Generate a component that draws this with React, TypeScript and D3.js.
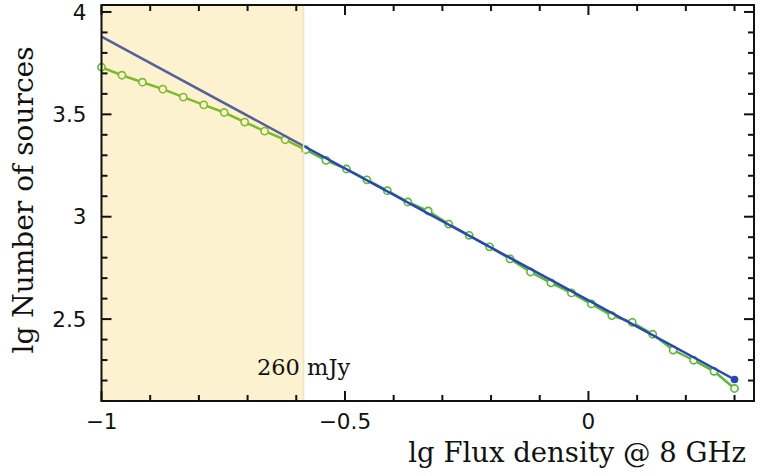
import React, { useRef, useEffect } from 'react'
import * as d3 from 'd3'

// lg flux density (x) for the measured counts
const fluxLg = [
  -1.0, -0.958, -0.916, -0.874, -0.832, -0.79, -0.748, -0.706, -0.665, -0.623,
  -0.581, -0.539, -0.497, -0.455, -0.413, -0.371, -0.329, -0.287, -0.245, -0.203,
  -0.161, -0.119, -0.077, -0.035, 0.006, 0.048, 0.09, 0.132, 0.174, 0.216,
  0.258, 0.3
]
// lg number of sources, measured
const countLg = [
  3.73, 3.691, 3.657, 3.623, 3.584, 3.546, 3.509, 3.462, 3.418, 3.376,
  3.327, 3.275, 3.233, 3.18, 3.127, 3.072, 3.028, 2.964, 2.909, 2.853,
  2.794, 2.73, 2.677, 2.628, 2.574, 2.517, 2.484, 2.426, 2.349, 2.299,
  2.245, 2.161
]
// power-law fit
const fitX = [-1.0, 0.3]
const fitY = [3.88, 2.205]

const xTicks = [-1, -0.5, 0]
const yTicks = [2.5, 3, 3.5, 4]
const cutoffLg = -0.585
const cutoffLabel = '260 mJy'

const W = 763
const H = 476
const margin = { left: 101.5, right: 9, top: 5, bottom: 75 }

const App = () => {
  const svgRef = useRef(null)

  useEffect(() => {
    const width = W - margin.left - margin.right
    const height = H - margin.top - margin.bottom

    const x = d3.scaleLinear().domain([-1, 0.34]).range([0, width])
    const y = d3.scaleLinear().domain([2.1, 4.034]).range([height, 0])

    const svgEl = d3.select(svgRef.current)
    svgEl.selectAll('*').remove()
    const svg = svgEl
      .append('g')
      .attr('transform', `translate(${margin.left},${margin.top})`)

    const green = '#5cb82e'
    const blue = '#2846b8'

    const line = d3
      .line<[number, number]>()
      .x(d => x(d[0]))
      .y(d => y(d[1]))

    svg
      .append('path')
      .attr('fill', 'none')
      .attr('stroke', green)
      .attr('stroke-width', 2.5)
      .attr('d', line(fluxLg.map((v, i) => [v, countLg[i]])))

    svg
      .selectAll('.pt')
      .data(fluxLg)
      .enter()
      .append('circle')
      .attr('cx', d => x(d))
      .attr('cy', (d, i) => y(countLg[i]))
      .attr('r', 3.6)
      .attr('fill', 'white')
      .attr('stroke', green)
      .attr('stroke-width', 1.6)

    // fit line
    svg
      .append('path')
      .attr('fill', 'none')
      .attr('stroke', blue)
      .attr('stroke-width', 2.5)
      .attr('d', line(fitX.map((v, i) => [v, fitY[i]])))

    svg
      .append('circle')
      .attr('cx', x(fitX[1]))
      .attr('cy', y(fitY[1]))
      .attr('r', 3.8)
      .attr('fill', blue)

    // shaded incomplete region, drawn on top
    svg
      .append('rect')
      .attr('x', 0)
      .attr('y', 0)
      .attr('width', x(cutoffLg))
      .attr('height', height)
      .attr('fill', '#f6c429')
      .attr('fill-opacity', 0.22)
    svg
      .append('line')
      .attr('x1', x(cutoffLg))
      .attr('x2', x(cutoffLg))
      .attr('y1', 0)
      .attr('y2', height)
      .attr('stroke', '#efe4c6')
      .attr('stroke-width', 1.5)

    svg
      .append('text')
      .attr('x', x(cutoffLg))
      .attr('y', height - 26)
      .attr('text-anchor', 'middle')
      .attr('font-family', 'DejaVu Serif')
      .attr('font-size', 22.5)
      .attr('fill', '#111')
      .text(cutoffLabel)

    // ticks (inward, on all four sides)
    const tickColor = '#111'
    const xMinor = d3.range(-10, 4).map(v => v / 10)
    const yMinor = d3.range(22, 41).map(v => v / 10)
    const isMajor = (v: number) => Math.abs(v * 2 - Math.round(v * 2)) < 1e-6

    xMinor.forEach(v => {
      const len = isMajor(v) ? 10 : 6
      svg.append('line').attr('x1', x(v)).attr('x2', x(v)).attr('y1', height).attr('y2', height - len).attr('stroke', tickColor).attr('stroke-width', 2)
      svg.append('line').attr('x1', x(v)).attr('x2', x(v)).attr('y1', 0).attr('y2', len).attr('stroke', tickColor).attr('stroke-width', 2)
    })
    yMinor.forEach(v => {
      const len = isMajor(v) ? 10 : 6
      svg.append('line').attr('x1', 0).attr('x2', len).attr('y1', y(v)).attr('y2', y(v)).attr('stroke', tickColor).attr('stroke-width', 2)
      svg.append('line').attr('x1', width).attr('x2', width - len).attr('y1', y(v)).attr('y2', y(v)).attr('stroke', tickColor).attr('stroke-width', 2)
    })

    svg
      .append('rect')
      .attr('x', 0)
      .attr('y', 0)
      .attr('width', width)
      .attr('height', height)
      .attr('fill', 'none')
      .attr('stroke', '#111')
      .attr('stroke-width', 2)

    // tick labels
    const fmt = (v: number) => (v < 0 ? '\u2212' : '') + Math.abs(v).toString()
    svg
      .selectAll('.xl')
      .data(xTicks)
      .enter()
      .append('text')
      .attr('x', d => x(d))
      .attr('y', height + 20)
      .attr('dy', '0.35em')
      .attr('text-anchor', 'middle')
      .attr('font-family', 'DejaVu Sans')
      .attr('font-size', 21.5)
      .attr('fill', '#111')
      .text(d => fmt(d))

    svg
      .selectAll('.yl')
      .data(yTicks)
      .enter()
      .append('text')
      .attr('x', -15)
      .attr('y', d => y(d))
      .attr('dy', '0.35em')
      .attr('text-anchor', 'end')
      .attr('font-family', 'DejaVu Sans')
      .attr('font-size', 21.5)
      .attr('fill', '#111')
      .text(d => fmt(d))

    // axis titles
    svgEl
      .append('text')
      .attr('x', 746)
      .attr('y', 462)
      .attr('text-anchor', 'end')
      .attr('font-family', 'DejaVu Serif')
      .attr('font-size', 27.5)
      .attr('fill', '#111')
      .text('lg Flux density @ 8 GHz')

    svgEl
      .append('text')
      .attr('transform', 'translate(33,200) rotate(-90)')
      .attr('text-anchor', 'middle')
      .attr('font-family', 'DejaVu Serif')
      .attr('font-size', 28)
      .attr('fill', '#111')
      .text('lg Number of sources')
  }, [])

  return (
    <svg
      ref={svgRef}
      width={W}
      height={H}
      style={{ position: 'absolute', left: 0, top: 0, background: 'white' }}
    />
  )
}

export default App
